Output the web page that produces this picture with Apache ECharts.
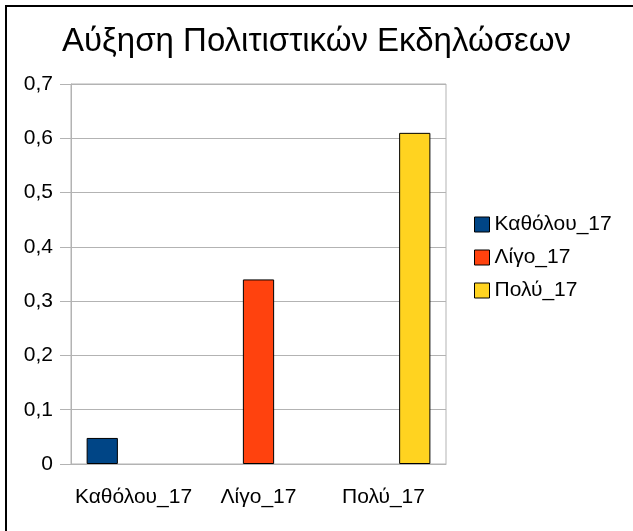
<!DOCTYPE html>
<html>
<head>
<meta charset="utf-8">
<script src="https://cdn.jsdelivr.net/npm/echarts@6/dist/echarts.min.js"></script>
<style>
  html, body { margin: 0; padding: 0; background: #fff; }
  #mainChart { width: 633px; height: 531px; }
</style>
</head>
<body>
<div id="mainChart"></div>
<script>
var categories = ["Καθόλου_17", "Λίγο_17", "Πολύ_17"];
var seriesNames = ["Καθόλου_17", "Λίγο_17", "Πολύ_17"];
var katholouData = [0.048, "-", "-"];
var ligoData = ["-", 0.34, "-"];
var polyData = ["-", "-", 0.61];
var colors = ["#004586", "#ff420e", "#ffd320"];

var myChart = echarts.init(document.getElementById("mainChart"));
var font = "Liberation Sans";

function makeBar(name, data, color) {
    return {
        name: name,
        type: "bar",
        data: data,
        barGap: "0%",
        barCategoryGap: "25%",
        itemStyle: {
            color: color,
            borderColor: "#000",
            borderWidth: 1
        }
    };
}

var option = {
    animation: false,
    backgroundColor: "#fff",
    title: {
        text: "Αύξηση Πολιτιστικών Εκδηλώσεων",
        left: "center",
        top: 20,
        textStyle: {
            fontFamily: font,
            fontSize: 33,
            fontWeight: "normal",
            color: "#000"
        }
    },
    legend: {
        orient: "vertical",
        left: 469,
        top: 209,
        itemWidth: 15,
        itemHeight: 15,
        itemGap: 12,
        icon: "rect",
        data: seriesNames,
        itemStyle: { borderColor: "#000", borderWidth: 1 },
        textStyle: { fontFamily: font, fontSize: 21, color: "#000" }
    },
    grid: {
        left: 71,
        right: 187,
        top: 84,
        bottom: 67,
        show: true,
        borderColor: "#b3b3b3",
        borderWidth: 1
    },
    xAxis: {
        type: "category",
        data: categories,
        axisLine: { lineStyle: { color: "#b3b3b3" } },
        axisTick: { alignWithLabel: true, length: 11, lineStyle: { color: "#b3b3b3" } },
        axisLabel: { interval: 0, fontFamily: font, fontSize: 21, color: "#000", margin: 23 }
    },
    yAxis: {
        type: "value",
        min: 0,
        max: 0.7,
        interval: 0.1,
        axisLine: { show: true, lineStyle: { color: "#b3b3b3" } },
        axisTick: { show: true, length: 11, lineStyle: { color: "#b3b3b3" } },
        splitLine: { lineStyle: { color: "#b3b3b3" } },
        axisLabel: {
            fontFamily: font,
            fontSize: 21,
            color: "#000",
            margin: 18,
            formatter: function (v) {
                return (Math.round(v * 10) / 10).toString().replace(".", ",");
            }
        }
    },
    series: [
        makeBar(seriesNames[0], katholouData, colors[0]),
        makeBar(seriesNames[1], ligoData, colors[1]),
        makeBar(seriesNames[2], polyData, colors[2])
    ],
    graphic: [
        { type: "line", shape: { x1: 5, y1: 6, x2: 633, y2: 6 }, style: { stroke: "#000", lineWidth: 2 } },
        { type: "line", shape: { x1: 6, y1: 5, x2: 6, y2: 531 }, style: { stroke: "#000", lineWidth: 2 } }
    ]
};

myChart.setOption(option);
</script>
</body>
</html>
